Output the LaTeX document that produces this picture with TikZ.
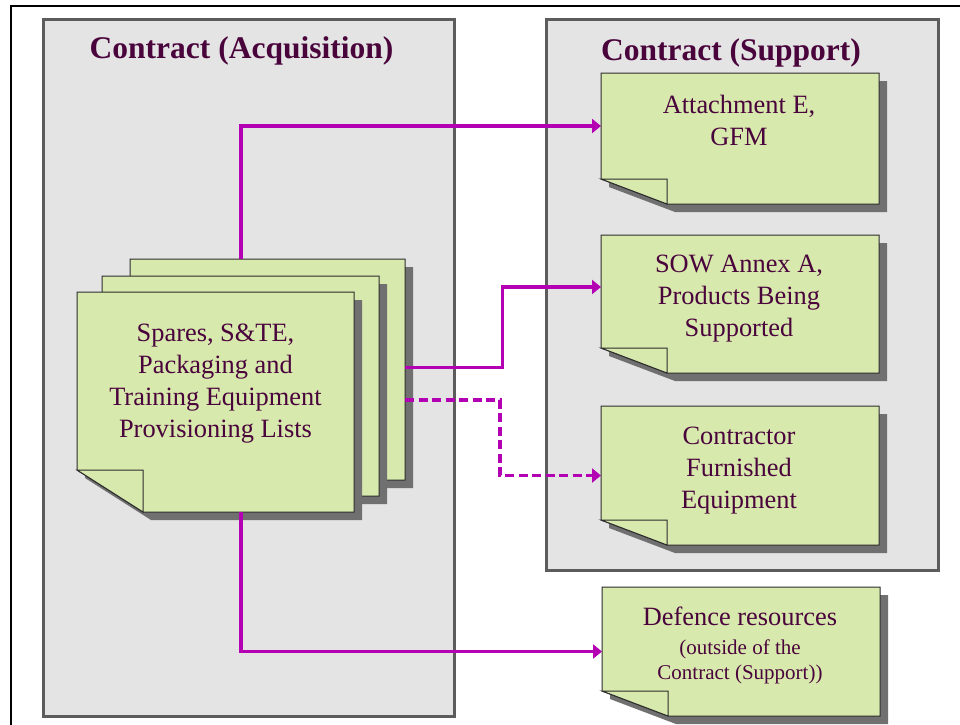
\documentclass[tikz,border=0pt]{standalone}
\usepackage{fontspec}
\setmainfont{Liberation Serif}
\usetikzlibrary{arrows.meta,calc}

\definecolor{panelfill}{RGB}{228,228,228}
\definecolor{paneledge}{RGB}{92,92,92}
\definecolor{notegreen}{RGB}{216,233,173}
\definecolor{noteedge}{RGB}{45,45,45}
\definecolor{noteshade}{RGB}{112,112,112}
\definecolor{linkpurple}{RGB}{178,0,178}
\definecolor{inkplum}{RGB}{74,4,60}

\tikzset{
  panel/.style={draw=paneledge, fill=panelfill, line width=3pt, inner sep=0pt, outer sep=0pt, anchor=north west},
  paneltitle/.style={text=inkplum, font=\bfseries\fontsize{31.5}{36}\selectfont, inner sep=0pt, anchor=base},
  notepaper/.style={fill=notegreen, draw=noteedge, line width=1pt, line join=miter},
  noteshadow/.style={fill=noteshade},
  notearea/.style={draw=none, inner sep=0pt, outer sep=0pt, rectangle},
  notetext/.style={text=inkplum, font=\fontsize{26.4}{32}\selectfont, align=center, inner sep=0pt},
  link/.style={draw=linkpurple, line width=3.1pt, -{Triangle[length=9pt,width=14pt]}},
  maybelink/.style={link, dash pattern=on 9pt off 4.5pt},
}

% sticky note with a turned-up lower left corner and a drop shadow
% #1 name, #2 left, #3 top, #4 right, #5 bottom, #6 height of the fold
\newcommand\stickynote[6]{%
  \path[noteshadow] ({#2+8},{#3+8}) -- ({#4+8},{#3+8}) -- ({#4+8},{#5+8})
    -- ({#2+74},{#5+8}) -- ({#2+8},{#5-#6+8}) -- cycle;
  \path[notepaper] (#2,#3) -- (#4,#3) -- (#4,#5) -- ({#2+66},#5)
    -- (#2,{#5-#6}) -- cycle;
  \path[notepaper] (#2,{#5-#6}) -- ({#2+66},{#5-#6}) -- ({#2+66},#5) -- cycle;
  \node[notearea, minimum width={#4-#2}, minimum height={#5-#3}]
    (#1) at ({(#2+#4)/2},{(#3+#5)/2}) {};
}

\begin{document}
\begin{tikzpicture}[x=1pt, y=-1pt]
  \useasboundingbox (0,0) rectangle (960,724);
  \fill[white] (0,0) rectangle (960,724);
  \begin{scope}
    \clip (0,0) rectangle (960,724);
    \draw[black, line width=2pt] (11,6) rectangle (990,760);
  \end{scope}

  % the two contract panels
  \node[panel, minimum width=410.5, minimum height=697.3] (acq) at (43.5,19.2) {};
  \node[panel, minimum width=391.5, minimum height=550.8] (sup) at (546.8,19.2) {};
  \node[paneltitle] (acqtitle) at (241.5,58) {Contract (Acquisition)};
  \node[paneltitle] (suptitle) at (731,60) {Contract (Support)};

  % stack of provisioning lists
  \stickynote{stackback}{130}{259}{405}{480}{42}
  \stickynote{stackmid}{102}{276}{379}{496}{42}
  \stickynote{stackfront}{77}{292}{354}{512}{42}
  \node[notetext] (stacktext) at (215.5,384)
    {Spares, S\&TE,\\Packaging and\\Training Equipment\\Provisioning Lists};

  % documents under the support contract
  \stickynote{attach}{601}{73}{879}{204}{25}
  \node[notetext] (attachtext) at (739,120) {Attachment E,\\GFM};

  \stickynote{sow}{601}{235}{879}{373}{25}
  \node[notetext] (sowtext) at (739,299) {SOW Annex A,\\Products Being\\Supported};

  \stickynote{cfe}{601}{406}{879}{545}{25}
  \node[notetext] (cfetext) at (739,471) {Contractor\\Furnished\\Equipment};

  \stickynote{defence}{602}{587}{880}{716}{25}
  \node[notetext] (defencetext) at (740,645)
    {Defence resources\\[-3pt]{\fontsize{21}{25}\selectfont (outside of the}\\[-7pt]
     {\fontsize{21}{25}\selectfont Contract (Support))}};

  % connectors
  \coordinate (jogsolid) at (502.5,0);
  \coordinate (jogdash) at (500,0);
  \coordinate (solidstart) at ([yshift=1.8pt]stackback.east);
  \coordinate (dashstart) at ([yshift=-30.5pt]stackback.east);

  \draw[link] ([xshift=111pt]stackback.north west) |- ([yshift=12.5pt]attach.west);
  \draw[link] (solidstart) -- (solidstart -| jogsolid) |- ([yshift=17pt]sow.west);
  \draw[maybelink] (dashstart) -- (dashstart -| jogdash) |- (cfe.west);
  \draw[link] ([xshift=164pt]stackfront.south west) |- (defence.west);
\end{tikzpicture}
\end{document}
